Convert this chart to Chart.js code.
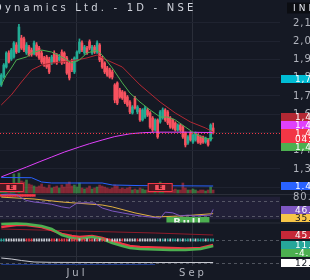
<!DOCTYPE html>
<html><head><meta charset="utf-8">
<script src="https://cdn.jsdelivr.net/npm/chart.js@4.4.1/dist/chart.umd.min.js"></script>
<style>html,body{margin:0;padding:0;background:#151924;overflow:hidden}canvas{display:block}</style>
</head><body>
<canvas id="c" width="310" height="280"></canvas>
<script>
// ---------- data ----------
const title = 'Dynamics Ltd. - 1D - NSE';
const currency = 'INR';
const candleOpen = [1758,1801,1856,1933,1900,1911,1977,1940,2015,2010, 1933,1966,1949,1930,1977,1960,1933,1906,1911,1900, 1878,1933,1922,1895,1938,1933,1906,1878,1890,1829, 1895,1938,1988,1933,1960,1995,1933,1966,1938,1977, 1906,1878,1851,1840,1829,1758,1769,1730,1720,1714, 1692,1664,1604,1686,1610,1621,1566,1582,1621,1604, 1577,1511,1566,1555,1577,1621,1610,1577,1566,1549, 1511,1538,1527,1495,1440,1495,1445,1456,1484,1473, 1473,1445,1456,1456,1522];
const candleClose = [1812,1867,1933,1884,1949,1988,1938,2075,1960,1949, 1977,1922,1925,1988,1922,1906,1884,1867,1856,1829, 1911,1884,1878,1911,1878,1884,1823,1796,1840,1906, 1938,1993,1949,1966,1933,1960,1966,1938,1988,1895, 1856,1829,1812,1801,1801,1675,1659,1692,1686,1664, 1648,1610,1637,1632,1637,1566,1621,1632,1593,1527, 1511,1566,1473,1610,1621,1566,1549,1527,1522,1511, 1538,1511,1473,1429,1473,1456,1484,1495,1445,1440, 1445,1467,1429,1538,1495];
const candleHigh = [1820,1875,1940,1945,1958,1995,1990,2090,2030,2020, 1990,1975,1960,1998,1990,1970,1945,1915,1920,1910, 1920,1945,1930,1925,1950,1940,1915,1885,1900,1912, 1945,2010,2000,1975,1970,2005,1975,1975,2000,1985, 1915,1885,1860,1850,1840,1765,1775,1740,1728,1722, 1700,1672,1645,1695,1645,1630,1628,1640,1630,1612, 1585,1572,1572,1618,1632,1628,1618,1585,1572,1556, 1545,1545,1535,1500,1480,1502,1490,1500,1490,1480, 1478,1472,1462,1545,1549];
const candleLow = [1750,1795,1850,1878,1892,1905,1930,1935,1952,1940, 1925,1915,1915,1922,1915,1898,1875,1860,1848,1820, 1870,1878,1870,1888,1870,1875,1815,1785,1830,1820, 1888,1930,1940,1925,1925,1950,1925,1930,1930,1885, 1848,1820,1805,1795,1790,1660,1650,1685,1678,1655, 1640,1600,1598,1625,1600,1558,1560,1575,1585,1520, 1500,1505,1465,1548,1570,1558,1540,1520,1515,1505, 1505,1503,1465,1418,1432,1450,1438,1450,1438,1432, 1438,1438,1422,1450,1490];
const volume = [1220,1015,1625,1220,1830,3860,2030,4060,2440,2230, 2640,1830,1625,1420,1220,1420,1830,1220,1015,1625, 1015,1220,1420,1015,1625,1220,1830,2230,1420,1625, 1220,2030,1015,810,1015,1420,810,1015,1220,1625, 1420,1220,1015,810,1015,1625,1420,810,1015,810, 1015,1220,610,810,610,1015,810,610,610,810, 1015,810,1220,2230,810,610,810,610,610,810, 610,610,2030,1015,610,610,810,610,405,610, 610,405,610,1220,610];
// sparse line points: [bar index, value]
const maFastPts = [[0,1758],[2,1812],[4,1851],[6,1895],[10,1911],[12,1933],[16,1949],[20,1938],[24,1911],[28,1878],[31,1895],[34,1933],[38,1949],[40,1922],[44,1851],[48,1769],[51,1714],[55,1664],[59,1621],[63,1582],[66,1582],[69,1566],[73,1527],[77,1489],[81,1462],[84,1467]];
const maSlowPts = [[0,1648],[4,1703],[8,1774],[12,1840],[16,1867],[20,1878],[24,1884],[30,1895],[34,1906],[38,1922],[40,1906],[48,1856],[55,1758],[63,1664],[69,1604],[75,1555],[81,1522],[84,1499]];
const ma200Pts = [[0,1254],[5,1281],[10,1308],[15,1336],[20,1363],[25,1390],[31,1418],[35,1436],[40,1456],[45,1475],[51,1490],[56,1496],[61,1499],[73,1499],[84,1497]];
const volMaPts = [[0,3150],[12,3100],[16,2230],[20,2030],[40,2030],[44,1625],[55,1500],[84,1420]];
const rsiPts = [[0,86],[3,87],[6,86],[8,77],[10,70],[13,66],[17,63],[20,60],[24,53],[27,50],[30,63],[34,64],[37,63],[40,50],[44,42],[48,37],[53,31],[56,28],[59,26],[63,23],[65,39],[68,37],[71,29],[74,31],[76,29],[80,30],[83,31],[84,46]];
const rsiMaPts = [[0,79],[13,74],[24,66],[40,58],[44,53],[53,37],[61,26],[72,29],[84,35]];
const rsiHotRange = [81,86];
const rsiHotBars = [0,13];
const macdAPts = [[0,73],[6,80],[10,80],[16,73],[20,62.5],[24,48.5],[28,41.5],[31,38],[36,41.5],[40,34.5],[44,24],[48,13.5],[51,6.5],[55,3],[61,1],[67,-0.5],[73,-2],[79,-0.5],[84,10]];
const macdBPts = [[0,83.5],[6,85],[10,83.5],[16,76.5],[20,66],[24,45],[28,34.5],[31,31],[36,38],[40,31],[44,17],[48,6.5],[51,-0.5],[55,-4],[61,-6],[67,-7.5],[73,-7.5],[79,-4],[84,6.5]];
const macdSlowPts = [[0,66],[30,59],[61,52],[84,45]];
const squeezeLevel = 27.5;
const squeezeStates = 'TT'+'WWWWWWWW'+'RRR'+'WWWWWWW'+'RRWR'+'RRRWRRRWRR'+'WRRWRWRRWR'+'WWWWRWWWWWRWWWWWWW'+'TWTWTWTTWTWTTWTWTTTWTTT';
const lowerPts = [[0,30],[4,26],[8,20],[13,14],[20,12.5],[40,12],[60,12],[84,12]];
const lowerBluePts = [[0,4],[61,4]];
const monthTicks = [{index:30,text:'Jul'},{index:76,text:'Sep'}];
const futureSlots = 26;
const priceTicks = [2100,2000,1900,1800,1700,1600,1500,1400,1300,1200];
const rsiLevels = [70,30];
const rsiBand = [80,20];
const rsiTickLabel = 80;
const lowerLevel = 12;
const alertLevel = 1787.7;
const earningsIdx = [4,63];
const bullLabel = {index:74, value:26, text:'Bull'};
const countdown = '04:12:55';
const extraLabels = [{axis:'yM', value:11, text:'11.20', bg:'#26a69a', fg:'#fff'}];

// ---------- build ----------
const n = candleOpen.length;
const labels = Array.from({length:n+futureSlots}, () => '');
monthTicks.forEach(t => labels[t.index] = t.text);
function sparse(pts){ const a = new Array(n).fill(null); pts.forEach(([i,v]) => a[i] = v); return a; }
const last = pts => pts[pts.length-1][1];
const UP = '#22ab94', DN = '#f7525f', BG = '#151924';
const candleColors = candleOpen.map((o,i) => candleClose[i] >= o ? UP : DN);
const volColors = candleOpen.map((o,i) => candleClose[i] >= o ? 'rgba(76,175,80,0.6)' : 'rgba(242,54,69,0.5)');
const sqColor = {T:'#26a69a', W:'#c8cad2', R:'#f23645'};

const H = 266;
function rangeFor(vA,yA,vB,yB){ const s=(yB-yA)/(vA-vB); return {min:vB-(H-yB)/s, max:vA+yA/s}; }
const PANE = {priceBottom:194, rsiBottom:222.5, macdBottom:256};

function line(pts, axis, color, width, order){
  return {type:'line', data:sparse(pts), yAxisID:axis, borderColor:color, borderWidth:width, pointRadius:0, spanGaps:true, tension:0, order:order, fill:false};
}
const hot = new Array(n).fill(null);
for (let i=rsiHotBars[0]; i<=rsiHotBars[1]; i++) hot[i] = rsiHotRange.slice();

const datasets = [
  {type:'bar', data:volume, yAxisID:'yV', backgroundColor:volColors, barThickness:2, grouped:false, order:20},
  line(volMaPts,'yV','#2962ff',1,19),
  {type:'bar', data:candleLow.map((l,i)=>[l,candleHigh[i]]), yAxisID:'yP', backgroundColor:candleColors, barThickness:1, grouped:false, order:15},
  {type:'bar', data:candleOpen.map((o,i)=>[o,candleClose[i]]), yAxisID:'yP', backgroundColor:candleColors, barThickness:2, minBarLength:1, grouped:false, order:14},
  line(ma200Pts,'yP','#e040fb',1,12),
  line(maSlowPts,'yP','#b22833',1,11),
  line(maFastPts,'yP','#4caf50',1,10),
  {type:'bar', data:hot, yAxisID:'yR', backgroundColor:'#f23645', barPercentage:1, categoryPercentage:1, grouped:false, order:9},
  line(rsiMaPts,'yR','#e0b040',1,8),
  line(rsiPts,'yR','#7e57c2',1,7),
  line(macdSlowPts,'yM','#8e1b2a',1,6),
  line(macdAPts,'yM','#f23645',2.5,5),
  line(macdBPts,'yM','#4caf50',2.5,4),
  {type:'bar', data:Array.from({length:n},()=>[squeezeLevel-4,squeezeLevel+4]), yAxisID:'yM', backgroundColor:Array.from({length:n},(_,i)=>sqColor[squeezeStates[i]||'W']), barThickness:1, grouped:false, order:3},
  line(lowerBluePts,'yW','#1e3a8a',1,2),
  line(lowerPts,'yW','#c8cad2',1,1)
];

function fmt(v){ return v.toLocaleString('en-US',{minimumFractionDigits:2, maximumFractionDigits:2}); }

function drawBox(c, cy, bg, fg, text, h){
  h = h || 8;
  c.fillStyle = bg; c.fillRect(281, Math.round(cy-4), 29, h);
  c.fillStyle = fg; c.font = '9px "DejaVu Sans"'; c.textBaseline = 'middle'; c.textAlign = 'left';
  c.fillText(text, 295, Math.round(cy-4)+4.5);
}

const overlay = {
  id:'overlay',
  beforeDraw(chart){
    const c = chart.ctx;
    c.save(); c.fillStyle = BG; c.fillRect(0,0,chart.width,chart.height); c.restore();
    c.letterSpacing = '3px';
  },
  beforeDatasetsDraw(chart){
    const c = chart.ctx, a = chart.chartArea, s = chart.scales;
    c.save(); c.letterSpacing = '0px';
    c.lineWidth = 1; c.strokeStyle = '#1f2330';
    priceTicks.forEach(v => { const y = Math.round(s.yP.getPixelForValue(v))+0.5; if (y < PANE.priceBottom-4) { c.beginPath(); c.moveTo(a.left,y); c.lineTo(a.right,y); c.stroke(); } });
    const b1 = s.yR.getPixelForValue(rsiBand[0]), b2 = s.yR.getPixelForValue(rsiBand[1]);
    c.fillStyle = 'rgba(126,87,194,0.12)'; c.fillRect(a.left, b1, a.right-a.left, b2-b1);
    c.setLineDash([3,3]); c.strokeStyle = 'rgba(120,123,134,0.6)';
    const hl = (y) => { y = Math.round(y)+0.5; c.beginPath(); c.moveTo(a.left,y); c.lineTo(a.right,y); c.stroke(); };
    rsiLevels.forEach(v => hl(s.yR.getPixelForValue(v)));
    hl(s.yM.getPixelForValue(squeezeLevel));
    hl(s.yW.getPixelForValue(lowerLevel));
    c.setLineDash([]); c.strokeStyle = '#2a2e39';
    [PANE.priceBottom, PANE.rsiBottom, PANE.macdBottom].forEach(y => { c.beginPath(); c.moveTo(0,y+0.5); c.lineTo(chart.width,y+0.5); c.stroke(); });
    c.restore();
  },
  afterDatasetsDraw(chart){
    const c = chart.ctx, a = chart.chartArea, s = chart.scales;
    c.save(); c.letterSpacing = '0px';
    const py = s.yP.getPixelForValue(candleClose[n-1]);
    c.setLineDash([1,2]); c.strokeStyle = '#f23645'; c.lineWidth = 1;
    c.beginPath(); c.moveTo(a.left, Math.round(py)+0.5); c.lineTo(a.right, Math.round(py)+0.5); c.stroke();
    c.setLineDash([]);
    const vb = s.yV.getPixelForValue(0);
    earningsIdx.forEach(i => {
      const cx = s.x.getPixelForValue(i);
      c.fillStyle = '#4a1822'; c.fillRect(cx-12.5, vb-10, 25, 9);
      c.strokeStyle = '#f23645'; c.strokeRect(cx-12, vb-9.5, 24, 8);
      c.fillStyle = '#f7525f'; c.fillRect(cx-5, vb-8, 10, 5);
      c.fillStyle = '#3b0d14'; c.font = 'bold 6px "DejaVu Sans"'; c.textAlign='center'; c.textBaseline='middle';
      c.fillText('E', cx, vb-5.3);
    });
    c.save(); c.beginPath(); c.rect(0, PANE.priceBottom, a.right, PANE.rsiBottom-PANE.priceBottom); c.clip();
    const bx = s.x.getPixelForValue(bullLabel.index), by = s.yR.getPixelForValue(bullLabel.value);
    c.fillStyle = '#4caf50'; c.fillRect(bx-21.5, by, 43, 12);
    c.fillStyle = '#e8f5e9'; c.font = 'bold 10px "DejaVu Sans"'; c.textAlign='center'; c.textBaseline='middle';
    c.letterSpacing = '2px';
    c.fillText(bullLabel.text, bx, by+6.5);
    c.restore();
    c.restore();
  },
  afterDraw(chart){
    const c = chart.ctx, s = chart.scales;
    c.save();
    c.letterSpacing = '3.2px';
    c.fillStyle = '#d1d4dc'; c.font = '10px "DejaVu Sans"'; c.textAlign='left'; c.textBaseline='alphabetic';
    c.fillText(title, -6, 11);
    c.letterSpacing = '3px';
    c.fillStyle = '#0b0d12'; c.fillRect(287, 2.5, 23, 11);
    c.fillStyle = '#e0e3eb'; c.font = '9px "DejaVu Sans"'; c.textBaseline='middle';
    c.fillText(currency, 293, 8.5);
    c.letterSpacing = '1px';
    c.fillStyle = '#b2b5be'; c.font = '10px "DejaVu Sans"';
    priceTicks.forEach(v => { const y = s.yP.getPixelForValue(v); if (y < PANE.priceBottom-2) c.fillText(fmt(v), 293, y+0.5); });
    c.fillText(fmt(rsiTickLabel), 293, s.yR.getPixelForValue(rsiTickLabel)+0.5);
    c.letterSpacing = '0.8px';
    drawBox(c, s.yP.getPixelForValue(alertLevel), '#00bcd4', '#fff', fmt(alertLevel));
    const close = candleClose[n-1];
    const py = s.yP.getPixelForValue(close);
    c.fillStyle = '#f23645'; c.fillRect(281, Math.round(py-4), 29, 14);
    c.fillStyle = '#fff'; c.font = '9px "DejaVu Sans"';
    c.fillText(fmt(close), 295, Math.round(py-4)+4.5);
    c.fillText(countdown, 295, Math.round(py-4)+10.5);
    let top = py-4;
    [{v:last(ma200Pts), bg:'#e040fb'}, {v:last(maSlowPts), bg:'#b22833'}].forEach(L => {
      const cy = Math.min(s.yP.getPixelForValue(L.v), top-4);
      drawBox(c, cy, L.bg, '#fff', fmt(L.v)); top = cy-4;
    });
    let bot = py+10;
    [{v:last(maFastPts), bg:'#4caf50'}].forEach(L => {
      const cy = Math.max(s.yP.getPixelForValue(L.v), bot+4);
      drawBox(c, cy, L.bg, '#fff', fmt(L.v)); bot = cy+4;
    });
    const vm = last(volMaPts);
    drawBox(c, s.yV.getPixelForValue(vm), '#2962ff', '#fff', (vm/1000).toFixed(2)+'M');
    const groups = [
      [{axis:'yR', value:last(rsiPts), text:fmt(last(rsiPts)), bg:'#7e57c2', fg:'#fff'},
       {axis:'yR', value:last(rsiMaPts), text:fmt(last(rsiMaPts)), bg:'#f7c548', fg:'#131722'}],
      [{axis:'yM', value:last(macdSlowPts), text:fmt(last(macdSlowPts)), bg:'#c62838', fg:'#fff'},
       ...extraLabels,
       {axis:'yM', value:-4, text:'-4.10', bg:'#4caf50', fg:'#fff'}],
      [{axis:'yW', value:last(lowerPts), text:fmt(last(lowerPts)), bg:'#ffffff', fg:'#131722'}]
    ];
    groups.forEach(g => {
      const items = g.map(L => ({...L, y: s[L.axis].getPixelForValue(L.value)})).sort((p,q)=>p.y-q.y);
      let prev = -1e9;
      items.forEach(L => { const cy = Math.max(L.y, prev+8); drawBox(c, cy, L.bg, L.fg, L.text); prev = cy; });
    });
    c.restore();
  }
};

new Chart(document.getElementById('c'), {
  type:'bar',
  data:{labels, datasets},
  options:{
    responsive:false, devicePixelRatio:1, animation:false, events:[],
    layout:{padding:{left:0, right:30, top:0, bottom:0}},
    plugins:{legend:{display:false}, tooltip:{enabled:false}},
    scales:{
      x:{type:'category', offset:true,
         grid:{display:true, offset:false, drawTicks:false, color:ctx => (ctx.tick && ctx.tick.label) ? '#2a2e39' : 'rgba(0,0,0,0)'},
         border:{display:false},
         ticks:{autoSkip:false, maxRotation:0, padding:1, color:'#b2b5be', font:{family:'DejaVu Sans', size:10}},
         afterFit: sc => { sc.height = 14; }},
      yP:{type:'linear', display:false, ...rangeFor(2100,22.5,1300,168.5)},
      yV:{type:'linear', display:false, ...rangeFor(1420,186,0,193)},
      yR:{type:'linear', display:false, ...rangeFor(70,200.5,30,215.5)},
      yM:{type:'linear', display:false, ...rangeFor(45,235,-4,249)},
      yW:{type:'linear', display:false, ...rangeFor(30,258,0,265.5)}
    }
  },
  plugins:[overlay]
});
</script>
</body></html>
